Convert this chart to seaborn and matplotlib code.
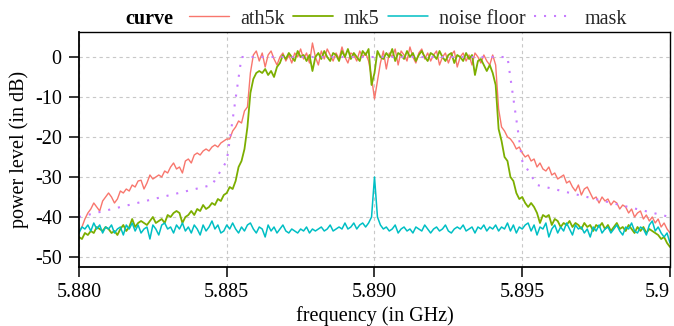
import numpy as np
import pandas as pd
import matplotlib
matplotlib.use("Agg")
import matplotlib.pyplot as plt
from matplotlib.lines import Line2D
import seaborn as sns

# ---------------- data ----------------
freq = np.round(5.880 + 0.0001 * np.arange(201), 4)

ath5k = [-43.5, -42.5, -40.5, -39, -38, -36.5, -37.5, -38.5, -36, -35,
         -34, -35, -36.5, -35.5, -33.5, -34, -33, -33.5, -32, -32.5,
         -31, -30.8, -33, -31.5, -29.5, -30.5, -30, -29.5, -30, -28.5,
         -29, -27.5, -26.5, -28, -27.5, -29, -26, -25.5, -26.5, -24.5,
         -24, -24.5, -23.5, -23, -23.5, -22.5, -22, -22.5, -21.5, -21,
         -20.5, -20.5, -18.5, -17.5, -16, -16.5, -13.5, -12.5, -4,
         0.5, 1.5, -1, 1, -2.5, 0.5, 1.5, -0.5, -2, 0,
         1, -1, 0.5, -1.5, 1, 0, 2, -0.5, 1, -1.5,
         3.5, 0, -2, 1.5, -0.5, 2, 0.5, -1, 1, -0.5,
         2.5, 0, -1.5, 1, 0.5, -1, 1.5, 0, 1, -1,
         -5, -10.5, -6, -1.5, 1.5, -3, 1, 0, 2, -2,
         1.5, 0.5, -1, 2.5, 0, -1.5, 1, 2, -0.5, 1,
         -1, 0.5, 1.5, -2, 0, 1, -1.5, 0.5, 1.5, -2.5,
         0, 1, -1, 0.5, -2, 1, 0, -1.5, 0.5, -1,
         -2, 0.5,
         -2, -13, -17.5, -18.5, -20, -20.5, -21.5, -23, -22.5, -24,
         -25, -24.5, -26, -25.5, -27.5, -26.5, -28, -28.5, -27.5, -29.5,
         -29, -30.5, -30, -29.5, -31.5, -31, -32.5, -33.5, -32, -34.5,
         -33, -32.5, -34, -35.5, -35, -36.5, -35, -36, -35.5, -37,
         -36, -36.5, -38, -37, -37.5, -39, -38, -40, -39, -38.5,
         -40.5, -39.5, -41, -40, -41.5, -40.5, -42.5, -41.5, -43, -44]

mk5 = [-45, -45.5, -44, -44.5, -43.5, -44, -42.5, -43, -43.5, -42.5,
       -43, -44, -43.5, -44.5, -43, -42, -43.5, -42.5, -40.5, -42.5,
       -41.5, -41, -41.5, -42, -41, -40, -41.5, -41, -40.5, -41.5,
       -39.5, -40, -39, -38.5, -39, -41.5, -40, -39.5, -38.5, -39.5,
       -38, -38.5, -37, -38, -37.5, -36.5, -37, -35.5, -36, -34.5,
       -34, -32.5, -33, -31, -27.5, -26, -23, -17.5, -9, -5.5,
       -4, -3.5, -4, -3, -4.5, -3.5, -5, -2.5, -1.5, 0.5,
       -0.5, 1, 0, -1, 1.5, 0, 0.5, -1, 0.5, -3.5,
       0, 1, -0.5, 1.5, 0, -1, 1, 0.5, -1, 1.5,
       0, 2, -0.5, 1, 0, -1, 1.5, 0.5, 2, -7,
       -4, 1.5, 0, -0.5, 1, 0, 2, -1, 1, 0.5,
       -0.5, 1.5, 0, 1, -1, 0.5, 1.5, 0, -1, 1,
       0.5, -0.5, 1.5, 0, -1, 0.5, 1, -1.5, 0.5, 0,
       -1, 1, -0.5, 0.5, -4.5, -1, -0.5, -2, -3.5, -2,
       -4,
       -7, -18, -21, -25, -26, -30, -31, -34, -35.5, -35,
       -36.5, -37.5, -36.5, -37.5, -39, -41.5, -39.5, -40, -39.5, -42,
       -40.5, -41, -42.5, -41.5, -42, -41, -42.5, -41.5, -42, -43,
       -41.5, -42.5, -42, -43.5, -42, -42.5, -41.5, -43, -42, -43.5,
       -42.5, -41.5, -43, -42.5, -43.5, -42, -43, -44, -42.5, -43.5,
       -42.5, -44, -43, -43.5, -44, -44.5, -45.5, -45, -46.5, -47.5]

noise_floor = [-44, -42.5, -43, -42, -43.5, -41.5, -43, -42, -44, -42.5,
               -43, -42, -44, -43, -42.5, -44.5, -42, -43, -41.5, -43.5,
               -42, -44, -43, -42.5, -45.5, -42, -43, -44.5, -42, -41.5,
               -43, -42.5, -44, -42, -43, -41.5, -43.5, -42.5, -44, -42,
               -43, -44.5, -42, -43.5, -42.5, -41, -43, -42, -44, -43.5,
               -42, -43, -41.5, -43, -44, -42.5, -43.5, -42, -41.5, -43,
               -44, -42.5, -43, -45, -42, -43.5, -42.5, -44, -43, -42,
               -43.5, -44, -43, -43.5, -44, -43, -43.5, -42.5, -44, -43,
               -43.5, -43, -42.5, -43.5, -43, -42, -43.5, -43, -42.5, -43,
               -41.5, -43, -42.5, -41.5, -43, -42, -41.5, -42.5, -41.5, -40,
               -30, -40, -42, -43, -42.5, -43.5, -43, -42, -44, -43,
               -42.5, -43.5, -43, -44, -42.5, -43, -43.5, -42, -43, -44,
               -43, -42.5, -43.5, -43, -42, -43.5, -44, -43, -42.5, -43,
               -42, -43.5, -43, -42.5, -44, -42.5, -43, -42, -43.5, -42.5,
               -43, -42, -43.5, -42.5, -43, -41.5, -43.5, -42, -44, -42.5,
               -43, -42, -41.5, -43.5, -42, -44.5, -42.5, -43, -41.5, -45,
               -43, -42, -44, -42.5, -43.5, -41.5, -43, -44.5, -42, -43,
               -42.5, -44, -43, -45, -42.5, -43.5, -42, -44, -43, -42.5,
               -44, -43, -42, -43.5, -44.5, -42.5, -43, -41.5, -43.5, -44,
               -42.5, -43, -44.5, -42, -41, -43.5, -42.5, -44, -45, -44,
               -46.5]

mask_freq = [5.880, 5.8845, 5.885, 5.8855, 5.8945, 5.895, 5.8955, 5.900]
mask_level = [-40, -32, -26, 0, 0, -26, -32, -40]

curve_names = ["ath5k", "mk5", "noise floor", "mask"]
colors = ["#F8766D", "#7CAE00", "#00BFC4", "#C77CFF"]
x_ticks = [5.880, 5.885, 5.890, 5.895, 5.900]
x_tick_labels = ["5.880", "5.885", "5.890", "5.895", "5.9"]
y_ticks = [0, -10, -20, -30, -40, -50]

# ---------------- long table ----------------
df = pd.concat([
    pd.DataFrame({"freq": freq, "power": ath5k, "curve": "ath5k"}),
    pd.DataFrame({"freq": freq, "power": mk5, "curve": "mk5"}),
    pd.DataFrame({"freq": freq, "power": noise_floor, "curve": "noise floor"}),
    pd.DataFrame({"freq": mask_freq, "power": mask_level, "curve": "mask"}),
], ignore_index=True)

# ---------------- style ----------------
sns.set_theme(style="white")
plt.rcParams["font.family"] = ["Liberation Serif", "DejaVu Serif"]
plt.rcParams["axes.unicode_minus"] = False
FS = 14.5

fig = plt.figure(figsize=(6.74, 3.26), dpi=100)
ax = fig.add_axes([79 / 674, 1 - 267 / 326, (670 - 79) / 674, (267 - 32) / 326])

palette = dict(zip(curve_names, colors))
sns.lineplot(data=df, x="freq", y="power", hue="curve",
             hue_order=curve_names, palette=palette,
             estimator=None, sort=False, legend=False, ax=ax)

MASK_DASH = (0, (1.0, 3.8))
lws = {"ath5k": 1.0, "mk5": 1.3, "noise floor": 1.1, "mask": 1.5}
for line, name in zip(ax.lines, curve_names):
    line.set_linewidth(lws[name])
    if name == "mask":
        line.set_linestyle(MASK_DASH)
        line.set_dash_capstyle("butt")

ax.set_xlim(5.880, 5.900)
ax.set_ylim(-52.5, 6.25)
ax.set_xticks(x_ticks)
ax.set_xticklabels(x_tick_labels)
ax.get_xticklabels()[-1].set_horizontalalignment("right")
ax.set_yticks(y_ticks)
ax.set_yticklabels([str(v) for v in y_ticks])

ax.grid(True, color="#c8c8c8", linestyle=(0, (3, 3)), linewidth=0.8)
ax.set_axisbelow(True)
for s in ax.spines.values():
    s.set_visible(True)
    s.set_color("black")
    s.set_linewidth(1.0)
ax.spines["left"].set_linewidth(1.3)
ax.spines["bottom"].set_linewidth(1.3)
ax.tick_params(axis="both", direction="out", length=7.5, width=1.1,
               color="black", labelsize=FS, labelcolor="black",
               left=True, bottom=True)
ax.tick_params(axis="y", pad=5)
ax.tick_params(axis="x", pad=4)

ax.set_xlabel("frequency (in GHz)", fontsize=FS, color="black", labelpad=3)
ax.set_ylabel("power level (in dB)", fontsize=FS, color="black", labelpad=4)

# ---------------- legend ----------------
handles = []
for name, c in zip(curve_names, colors):
    if name == "mask":
        handles.append(Line2D([], [], color=c, lw=lws[name], linestyle=MASK_DASH,
                              dash_capstyle="butt"))
    else:
        handles.append(Line2D([], [], color=c, lw=lws[name]))
leg = fig.legend(handles, curve_names, loc="center", ncol=4,
                 bbox_to_anchor=(408 / 674, 1 - 19 / 326), frameon=False,
                 fontsize=FS, handlelength=2.0, handletextpad=0.55,
                 columnspacing=0.4, borderpad=0, borderaxespad=0)
fig.text(149 / 674, 1 - 19 / 326, "curve", fontsize=FS, fontweight="bold",
         ha="center", va="center", color="black")

fig.savefig("out.png", dpi=100)
